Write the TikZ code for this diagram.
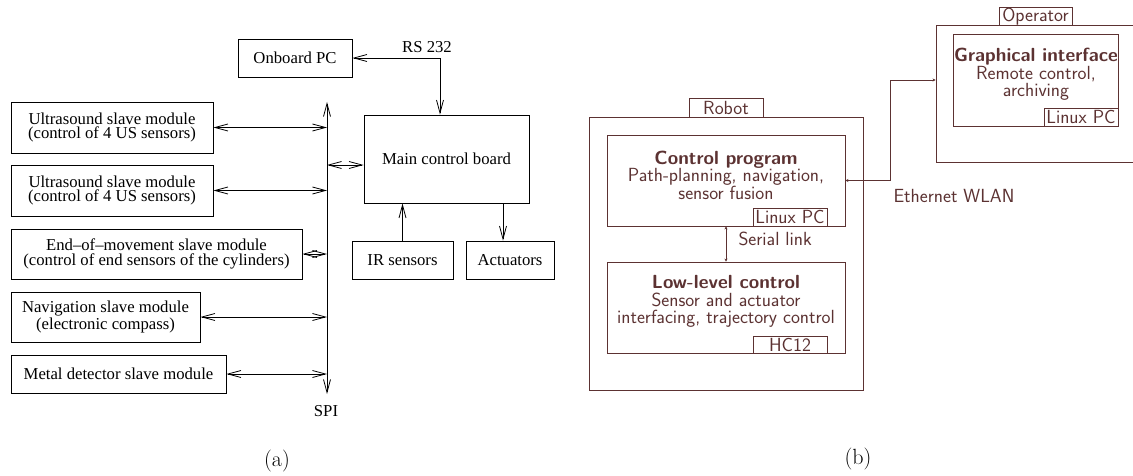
\documentclass[tikz,border=0pt]{standalone}
\usepackage{fontspec}
\setmainfont{Liberation Serif}
\newfontfamily\lmroman{Latin Modern Roman}
\newfontfamily\lmsans{Latin Modern Sans}
\usetikzlibrary{arrows.meta}
\definecolor{brn}{RGB}{92,50,50}
\tikzset{
  abox/.style={draw, line width=0.9pt, inner sep=0pt, align=center,
    font=\fontsize{16.7}{14.5}\selectfont},
  aarr/.style={line width=0.9pt, {Straight Barb[length=13pt,width=7pt,line width=0.8pt]}-{Straight Barb[length=13pt,width=7pt,line width=0.8pt]}},
  aone/.style={line width=0.9pt, -{Straight Barb[length=13pt,width=7pt,line width=0.8pt]}},
  bbox/.style={draw=brn, line width=0.9pt, inner sep=0pt},
  btext/.style={text=brn, align=center, font=\lmsans\fontsize{19}{17.5}\selectfont},
  blabel/.style={draw=brn, line width=0.9pt, inner sep=0pt, text=brn,
    font=\lmsans\fontsize{19}{17}\selectfont},
  barr/.style={draw=brn, line width=0.9pt, {Stealth[length=3pt,width=3pt]}-{Stealth[length=3pt,width=3pt]}},
}
\begin{document}
\begin{tikzpicture}[x=1pt,y=-1pt]
\clip (0,0) rectangle (1133,476);
\fill[white] (0,0) rectangle (1133,476);
% ---------- (a) ----------
\node[abox, minimum width=114pt, minimum height=38pt] (onboard) at (295,58) {Onboard PC};
\node[abox, minimum width=202pt, minimum height=51pt] (us1) at (112,127.5) {Ultrasound slave module\\(control of 4 US sensors)};
\node[abox, minimum width=202pt, minimum height=51pt] (us2) at (112,190.5) {Ultrasound slave module\\(control of 4 US sensors)};
\node[abox, minimum width=291pt, minimum height=50pt] (eom) at (156.5,254) {End--of--movement slave module\\(control of end sensors of the cylinders)};
\node[abox, minimum width=189pt, minimum height=50pt] (nav) at (105.5,317) {Navigation slave module\\(electronic compass)};
\node[abox, minimum width=215pt, minimum height=38pt] (metal) at (118.5,374) {Metal detector slave module};
\node[abox, minimum width=165pt, minimum height=88pt] (main) at (446.5,159) {Main control board};
\node[abox, minimum width=101pt, minimum height=38pt] (ir) at (402.5,260) {IR sensors};
\node[abox, minimum width=88pt, minimum height=38pt] (act) at (510,260) {Actuators};
\coordinate (spitop) at (327,102);
\coordinate (spibot) at (327,394);
\coordinate (bm) at (327,165);
\node[font=\fontsize{16.7}{14}\selectfont] (spi) at (326,411) {SPI};
\node[font=\fontsize{16.7}{14}\selectfont] (rs) at (427,47) {RS 232};
\draw[aarr] (spibot) -- (spitop);
\draw[aarr] (us1.east) -- (us1.east -| spitop);
\draw[aarr] (us2.east) -- (us2.east -| spitop);
\draw[aarr] (eom.east) -- (eom.east -| spitop);
\draw[aarr] (nav.east) -- (nav.east -| spitop);
\draw[aarr] (metal.east) -- (metal.east -| spitop);
\draw[aarr] (bm) -- (bm -| main.west);
\draw[aarr] (onboard.east) -| ([xshift=-6.5pt]main.north);
\draw[aone] (ir.north) -- (ir.north |- main.south);
\draw[aone] ([xshift=-7pt]act.north |- main.south) -- ([xshift=-7pt]act.north);
\node[font=\lmroman\fontsize{22}{22}\selectfont] (la) at (277,461) {(a)};
% ---------- (b) ----------
\node[bbox, minimum width=274pt, minimum height=273pt] (robot) at (726,253.5) {};
\node[blabel, minimum width=74pt, minimum height=19pt] (robotl) at (726,107.5) {Robot};
\node[bbox, minimum width=238pt, minimum height=91pt] (ctrl) at (726,180.5) {};
\node[blabel, minimum width=74pt, minimum height=18pt] (lpc1) at (790,217) {Linux PC};
\node[btext] (ctrlt) at (726,175) {\textbf{Control program}\\Path-planning, navigation,\\sensor fusion};
\node[bbox, minimum width=238pt, minimum height=91pt] (low) at (726,307.5) {};
\node[blabel, minimum width=74pt, minimum height=17pt] (hc) at (790,344.5) {HC12};
\node[btext] (lowt) at (726,301.5) {\textbf{Low-level control}\\Sensor and actuator\\interfacing, trajectory control};
\node[bbox, minimum width=210pt, minimum height=137pt] (op) at (1041,93.5) {};
\node[blabel, minimum width=73pt, minimum height=17pt] (opl) at (1035.5,16.5) {Operator};
\node[bbox, minimum width=165pt, minimum height=92pt] (gui) at (1035.5,80) {};
\node[blabel, minimum width=74pt, minimum height=18pt] (lpc2) at (1081,117) {Linux PC};
\node[btext] (guit) at (1036,74.5) {\textbf{Graphical interface}\\Remote control,\\archiving};
\draw[barr] (ctrl.south) -- (low.north);
\node[btext, anchor=west] (ser) at (735,239) {Serial link};
\coordinate (ew) at (890,80);
\draw[barr] (ctrl.east) -| (ew) -- (ew -| op.west);
\node[btext, anchor=west] (eth) at (890,196) {Ethernet WLAN};
\node[font=\lmroman\fontsize{22}{22}\selectfont] (lb) at (858,459) {(b)};
\end{tikzpicture}
\end{document}
